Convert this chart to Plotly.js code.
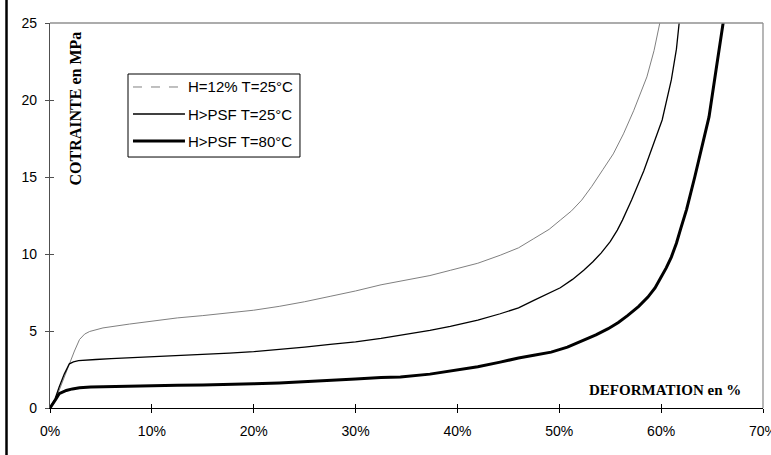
<!DOCTYPE html>
<html>
<head>
<meta charset="utf-8">
<script src="https://cdn.plot.ly/plotly-3.0.1.min.js"></script>
<style>html,body{margin:0;padding:0;background:#fff;}#chart{width:771px;height:455px;}</style>
</head>
<body>
<div id="chart"></div>
<script>
// Deformation (%) and stress (MPa)
var seriesNames = ["H=12% T=25°C", "H>PSF T=25°C", "H>PSF T=80°C"];

var xH12T25 = [0, 0.5, 0.9, 1.4, 1.9, 2.4, 2.9, 3.4, 3.9, 5.2, 7.8, 10, 12.5, 15, 17.6, 20, 22.5, 25, 27.5, 30, 32.5, 34.4, 37.3, 39.3, 42, 44.2, 46, 47.5, 49, 50.1, 51.2, 52.2, 53.2, 54.3, 55.3, 56.3, 57.3, 58.6, 59.3, 59.9];
var yH12T25 = [0, 0.5, 1.15, 2.0, 2.9, 3.7, 4.45, 4.8, 4.97, 5.2, 5.45, 5.65, 5.85, 6.0, 6.17, 6.35, 6.6, 6.9, 7.25, 7.6, 8.0, 8.22, 8.6, 8.94, 9.4, 9.92, 10.4, 11.0, 11.6, 12.2, 12.8, 13.5, 14.4, 15.5, 16.5, 17.8, 19.3, 21.5, 23.2, 25.1];

var xPSFT25 = [0, 0.5, 0.9, 1.4, 1.9, 2.3, 2.8, 3.5, 4.5, 6, 7.8, 10, 12.5, 15, 17.6, 20, 22.5, 25, 27.5, 30, 32.5, 34.4, 37.3, 39.3, 42, 44.2, 46, 47.5, 49, 50.1, 51.3, 52.4, 53.3, 54.1, 55, 55.7, 56.2, 57.1, 58.3, 59.2, 60.1, 61.0, 61.5, 61.8];
var yPSFT25 = [0, 0.6, 1.36, 2.2, 2.87, 3.0, 3.07, 3.12, 3.15, 3.2, 3.25, 3.3, 3.4, 3.48, 3.56, 3.66, 3.8, 3.95, 4.13, 4.3, 4.52, 4.71, 5.04, 5.3, 5.7, 6.12, 6.5, 6.99, 7.45, 7.81, 8.35, 8.94, 9.5, 10.06, 10.8, 11.55, 12.2, 13.5, 15.4, 17.0, 18.7, 21.3, 23.3, 25.2];

var xPSFT80 = [0, 0.3, 0.6, 0.9, 1.3, 1.6, 2.2, 2.9, 4, 6.1, 7.8, 10, 12.5, 15, 17.6, 20, 22.5, 25, 27.5, 30, 32.5, 34.4, 37.3, 39.3, 42, 44.2, 46, 47.5, 49.2, 50.8, 52.4, 53.6, 54.8, 55.8, 56.7, 57.8, 58.7, 59.4, 60.0, 60.5, 61.0, 61.5, 61.9, 62.5, 63.3, 64.0, 64.7, 65.4, 66.2];
var yPSFT80 = [0, 0.28, 0.6, 0.93, 1.05, 1.14, 1.24, 1.31, 1.36, 1.4, 1.42, 1.45, 1.48, 1.5, 1.52, 1.57, 1.63, 1.7, 1.79, 1.88, 1.98, 2.02, 2.2, 2.4, 2.68, 2.98, 3.25, 3.42, 3.63, 3.95, 4.39, 4.75, 5.15, 5.55, 6.0, 6.6, 7.2, 7.8, 8.5, 9.1, 9.8, 10.7, 11.6, 12.9, 15.0, 17.0, 18.9, 22.0, 25.5];

var xTicks = [0, 10, 20, 30, 40, 50, 60, 70];
var yTicks = [0, 5, 10, 15, 20, 25];

var sans = "Arial, 'Liberation Sans', sans-serif";
var serif = "'Times New Roman', 'Liberation Serif', serif";

var lineStyles = [
  {color: "#808080", width: 1},
  {color: "#000000", width: 1.3},
  {color: "#000000", width: 3}
];
var legendDash = ["dash", "solid", "solid"];

var traces = [
  {x: xH12T25, y: yH12T25, type: "scatter", mode: "lines", name: seriesNames[0], line: lineStyles[0]},
  {x: xPSFT25, y: yPSFT25, type: "scatter", mode: "lines", name: seriesNames[1], line: lineStyles[1]},
  {x: xPSFT80, y: yPSFT80, type: "scatter", mode: "lines", name: seriesNames[2], line: lineStyles[2]},
  {x: [null], y: [null], xaxis: "x2", yaxis: "y2", type: "scatter", mode: "lines", showlegend: false, hoverinfo: "skip"}
];

// Boxed legend drawn in paper coordinates
var legendBox = {x0: 0.1094, x1: 0.3506, y0: 0.6519, y1: 0.8675};
var legendRowsY = [0.8338, 0.7636, 0.6935];
var shapes = [
  {type: "line", xref: "paper", yref: "paper", x0: 0, x1: 1, y0: 1, y1: 1, line: {color: "#909090", width: 1.3}},
  {type: "line", xref: "paper", yref: "paper", x0: 1, x1: 1, y0: 0, y1: 1, line: {color: "#909090", width: 1.3}},
  {type: "line", xref: "paper", yref: "paper", x0: -0.061, x1: -0.061, y0: -0.15, y1: 1.1, line: {color: "#000000", width: 2.5}},
  {type: "rect", xref: "paper", yref: "paper", x0: legendBox.x0, x1: legendBox.x1, y0: legendBox.y0, y1: legendBox.y1,
   line: {color: "#000000", width: 1}, fillcolor: "#ffffff", layer: "above"}
];
var annotations = [
  {text: "COTRAINTE en MPa", xref: "paper", yref: "paper", x: 0.036, y: 0.777, xanchor: "center", yanchor: "middle",
   textangle: -90, showarrow: false, font: {family: serif, size: 16, color: "#000000", weight: 700}},
  {text: "DEFORMATION en %", xref: "paper", yref: "paper", x: 0.863, y: 0.047, xanchor: "center", yanchor: "middle",
   showarrow: false, font: {family: serif, size: 15, color: "#000000", weight: 700}}
];
seriesNames.forEach(function(name, i) {
  shapes.push({type: "line", xref: "paper", yref: "paper", x0: 0.1164, x1: 0.1893, y0: legendRowsY[i], y1: legendRowsY[i],
    line: {color: lineStyles[i].color, width: lineStyles[i].width, dash: legendDash[i]}, layer: "above"});
  annotations.push({text: name.replace(">", "&gt;"), xref: "paper", yref: "paper", x: 0.1915, y: legendRowsY[i],
    xanchor: "left", yanchor: "middle", showarrow: false, borderpad: 0,
    font: {family: sans, size: 15, color: "#000000"}});
});

var layout = {
  width: 771, height: 455,
  margin: {l: 50, r: 8, t: 23, b: 47, pad: 0},
  paper_bgcolor: "#ffffff", plot_bgcolor: "#ffffff",
  showlegend: false,
  xaxis: {
    range: [0, 70], tickvals: xTicks, ticktext: xTicks.map(function(v){return v + "%";}),
    showgrid: false, zeroline: false,
    showline: true, linecolor: "#000000", linewidth: 1,
    ticks: "outside", ticklen: 4, tickcolor: "#000000", tickwidth: 1,
    ticklabelstandoff: 6, ticklabeloverflow: "allow",
    tickfont: {family: sans, size: 14, color: "#000000"}
  },
  yaxis: {
    range: [0, 25], tickvals: yTicks,
    showgrid: false, zeroline: false,
    showline: true, linecolor: "#505050", linewidth: 1.3,
    ticks: "outside", ticklen: 4, tickcolor: "#505050", tickwidth: 1,
    ticklabelstandoff: 5,
    tickfont: {family: sans, size: 14, color: "#000000"}
  },
  xaxis2: {
    overlaying: "x", anchor: "y", range: [0, 70], tickvals: xTicks,
    showgrid: false, zeroline: false, showline: false, showticklabels: false,
    ticks: "inside", ticklen: 4, tickcolor: "#000000", tickwidth: 1
  },
  yaxis2: {
    overlaying: "y", anchor: "x", range: [0, 25], tickvals: yTicks,
    showgrid: false, zeroline: false, showline: false, showticklabels: false,
    ticks: "inside", ticklen: 4, tickcolor: "#505050", tickwidth: 1
  },
  shapes: shapes,
  annotations: annotations
};

Plotly.newPlot("chart", traces, layout, {displayModeBar: false});
</script>
</body>
</html>
